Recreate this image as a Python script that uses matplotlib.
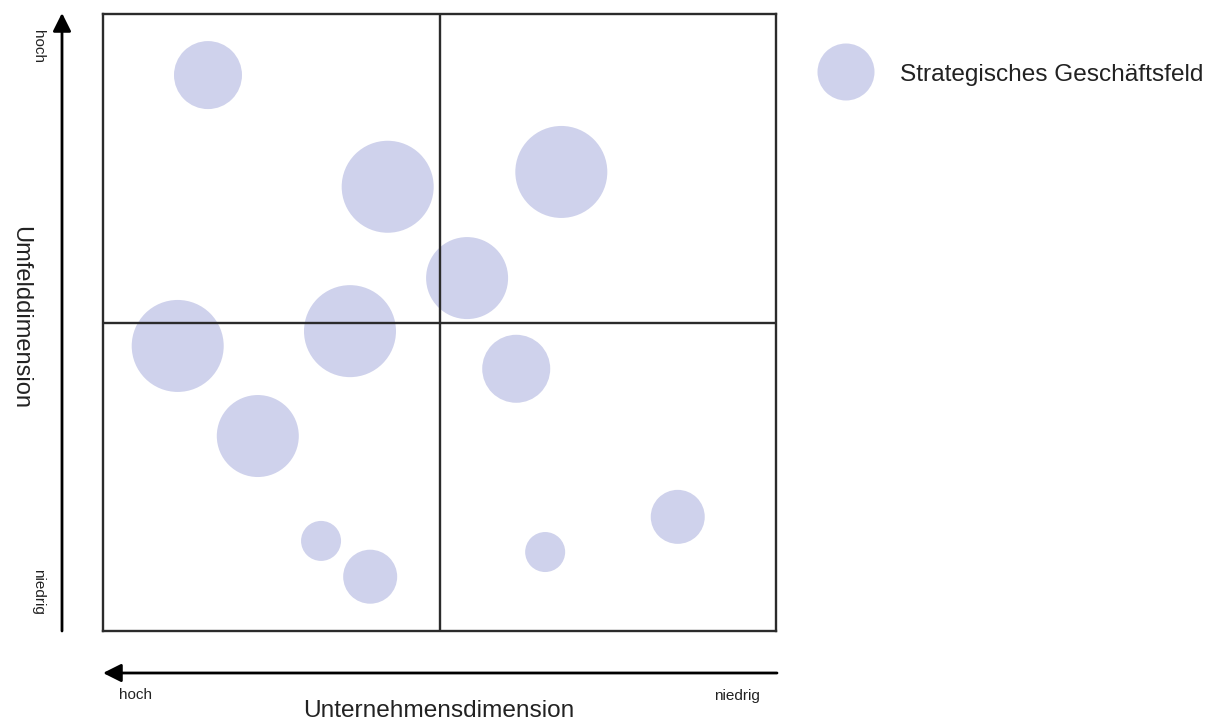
import matplotlib
matplotlib.use("Agg")
import matplotlib.pyplot as plt
from matplotlib.patches import FancyArrowPatch

plt.rcParams['font.family'] = ['Liberation Sans', 'DejaVu Sans']

# Strategische Geschäftsfelder: Unternehmensdimension (x), Umfelddimension (y), Größe
unternehmen = [1.56, 4.23, 6.81, 5.41, 1.11, 3.67, 6.14, 2.30, 3.24, 3.97, 6.57, 8.54]
umfeld      = [9.01, 7.20, 7.44, 5.72, 4.62, 4.86, 4.25, 3.16, 1.46, 0.88, 1.28, 1.85]
groesse     = [6.8, 9.2, 9.2, 8.2, 9.2, 9.2, 6.8, 8.2, 4.0, 5.4, 4.0, 5.4]

legende = "Strategisches Geschäftsfeld"
achse_x = "Unternehmensdimension"
achse_y = "Umfelddimension"
stufen = ["hoch", "niedrig"]

W, H = 1208, 722
DPI = 100
bubble_color = "#CFD2EC"
line_color = "#2b2b2b"
text_color = "#222222"

fig = plt.figure(figsize=(W / DPI, H / DPI), dpi=DPI)

def fx(px):
    return px / W

def fy(py):
    return 1 - py / H

# Portfolio-Matrix
ax = fig.add_axes([fx(103), fy(631), fx(776) - fx(103), fy(14) - fy(631)])
ax.set_xlim(0, 10)
ax.set_ylim(0, 10)
ax.set_xticks([])
ax.set_yticks([])
for sp in ax.spines.values():
    sp.set_linewidth(1.7)
    sp.set_color(line_color)

sizes = [(g * 10 * 72 / DPI) ** 2 for g in groesse]
ax.scatter(unternehmen, umfeld, s=sizes, color=bubble_color, edgecolors="none", zorder=1)
ax.axvline(5, color=line_color, lw=1.7, zorder=3)
ax.axhline(5, color=line_color, lw=1.7, zorder=3)

# Overlay in Pixelkoordinaten für Pfeile, Beschriftungen und Legende
ov = fig.add_axes([0, 0, 1, 1], facecolor="none")
ov.set_xlim(0, W)
ov.set_ylim(H, 0)
ov.axis("off")

arrow_style = "-|>,head_length=1.0,head_width=0.5"
ov.add_patch(FancyArrowPatch((62, 631), (62, 13), arrowstyle=arrow_style,
                             mutation_scale=11, lw=2.0, color="black",
                             shrinkA=0, shrinkB=0))
ov.add_patch(FancyArrowPatch((777, 673), (103, 673), arrowstyle=arrow_style,
                             mutation_scale=11, lw=2.0, color="black",
                             shrinkA=0, shrinkB=0))

ov.text(38, 47, stufen[0], rotation=-90, ha="center", va="center",
        fontsize=11, color=text_color)
ov.text(38, 592, stufen[1], rotation=-90, ha="center", va="center",
        fontsize=11, color=text_color)
ov.text(136, 695, stufen[0], ha="center", va="center", fontsize=11, color=text_color)
ov.text(737, 696, stufen[1], ha="center", va="center", fontsize=11, color=text_color)

ov.text(20, 318, achse_y, rotation=-90, ha="center", va="center",
        fontsize=17, color=text_color)
ov.text(439, 711, achse_x, ha="center", va="center", fontsize=17.6, color=text_color)

# Legende
ov.scatter([846], [72], s=(57 * 72 / DPI) ** 2, color=bubble_color, edgecolors="none")
ov.text(900, 75, legende, ha="left", va="center", fontsize=17.6, color=text_color)

fig.savefig("out.png", dpi=DPI)
